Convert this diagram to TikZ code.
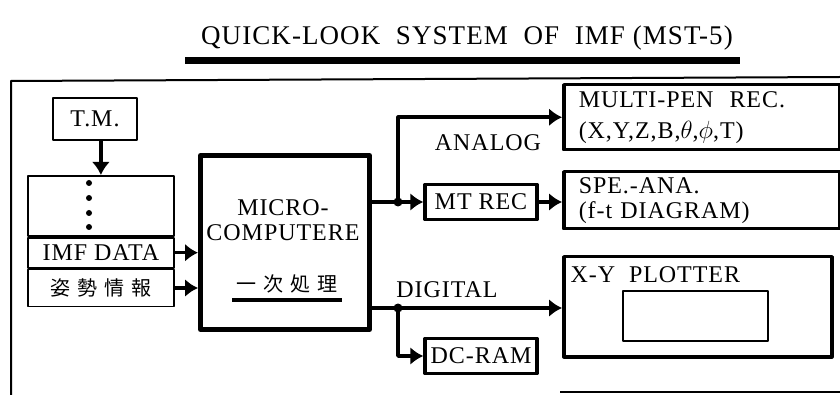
\documentclass[tikz,border=0pt]{standalone}
\usepackage{fontspec}
\setmainfont[LetterSpace=4]{Liberation Serif}
\newfontfamily\jpfont{Noto Sans CJK JP}
\usetikzlibrary{positioning,arrows.meta}

\tikzset{
  thinbox/.style={draw, line width=1.8pt, inner sep=0pt},
  heavybox/.style={draw, line width=3.5pt, inner sep=0pt},
  conn/.style={line width=3.5pt, -{Latex[length=13pt,width=18pt]}},
  wire/.style={line width=3.5pt},
  lbl/.style={font=\fontsize{24}{25}\selectfont},
  jp/.style={font=\jpfont\fontsize{20}{22}\selectfont},
}

\begin{document}
\begin{tikzpicture}[x=1pt, y=-1pt, line join=round]
    \useasboundingbox (0,0) rectangle (840,395);

    % Title
    \node [font=\fontsize{27}{28}\selectfont] (title) at (467,38) {QUICK-LOOK\ \ SYSTEM\ \ OF\ \ IMF (MST-5)};
    \fill (185,57) rectangle (740,64);

    % Frame
    \draw [line width=2pt] (840,77) -- (11,81) -- (11,395);
    \draw [line width=2pt] (560,392) -- (840,392);

    % Inputs
    \node [thinbox, lbl, minimum width=84pt, minimum height=42pt] (tm) at (95,119) {T.M.};
    \node [thinbox, minimum width=146pt, minimum height=60pt, anchor=north west] (stack) at (27,175) {};
    \node [thinbox, lbl, minimum width=146pt, minimum height=30pt, anchor=north] (imf) at (stack.south) {IMF\ DATA};
    \node [thinbox, jp, minimum width=146pt, minimum height=37pt, anchor=north] (att) at (imf.south) {姿\kern7pt勢\kern7pt情\kern7pt報};
    \foreach \y in {183,198,213,227}
        \fill (89,\y) circle (3pt);
    \draw [conn] (tm.south -| stack.north) -- (stack.north);

    % Micro-computer
    \node [heavybox, line width=5pt, minimum width=169pt, minimum height=174pt, anchor=north west] (micro) at (198,153) {};
    \node [lbl, align=center] (microtxt) at (283,220) {MICRO-\\COMPUTERE};
    \node [jp] (ichiji) at (287,284) {一\kern7pt次\kern7pt処\kern7pt理};
    \draw [line width=4pt] (232,300) -- (342,300);
    \draw [conn] (imf.east) -- (micro.west |- imf.east);
    \draw [conn] (att.east) -- (micro.west |- att.east);

    % Outputs
    \node [heavybox, lbl, minimum width=276pt, minimum height=65pt, text width=246pt, align=left, anchor=north west] (multipen) at (562,83)
        {MULTI-PEN\ \ REC.\\[6pt](X,Y,Z,B,$\theta$,$\phi$,T)};
    \node [heavybox, lbl, minimum width=276pt, minimum height=57pt, text width=246pt, align=left, anchor=north west] (spe) at (562,170)
        {SPE.-ANA.\\(f-t DIAGRAM)};
    \node [heavybox, lbl, minimum width=112pt, minimum height=35pt] (mtrec) at (481,202) {MT REC};
    \node [heavybox, minimum width=268pt, minimum height=100pt, anchor=north west] (plotter) at (562,255) {};
    \node [lbl, anchor=west] (plottxt) at (567,275) {X-Y\ \ PLOTTER};
    \node [thinbox, minimum width=145pt, minimum height=50pt, anchor=north west] (screen) at (622,290) {};
    \node [heavybox, lbl, minimum width=112pt, minimum height=35pt] (dcram) at (481,356) {DC-RAM};

    \node [lbl] (analog) at (488,143) {ANALOG};
    \node [lbl] (digital) at (447,290) {DIGITAL};

    % Connectors
    \coordinate (ja) at (398,202);
    \coordinate (jd) at (398,308);
    \draw [wire] (micro.east |- ja) -- (ja);
    \draw [conn] (ja) -- (mtrec.west);
    \draw [conn] (ja) |- (multipen.west);
    \draw [conn] (mtrec.east) -- (spe.west |- mtrec.east);
    \fill (ja) circle (4.5pt);
    \draw [wire] (micro.east |- jd) -- (jd);
    \draw [conn] (jd) -- (plotter.west |- jd);
    \draw [conn] (jd) |- (dcram.west);
    \fill (jd) circle (4.5pt);
\end{tikzpicture}
\end{document}
